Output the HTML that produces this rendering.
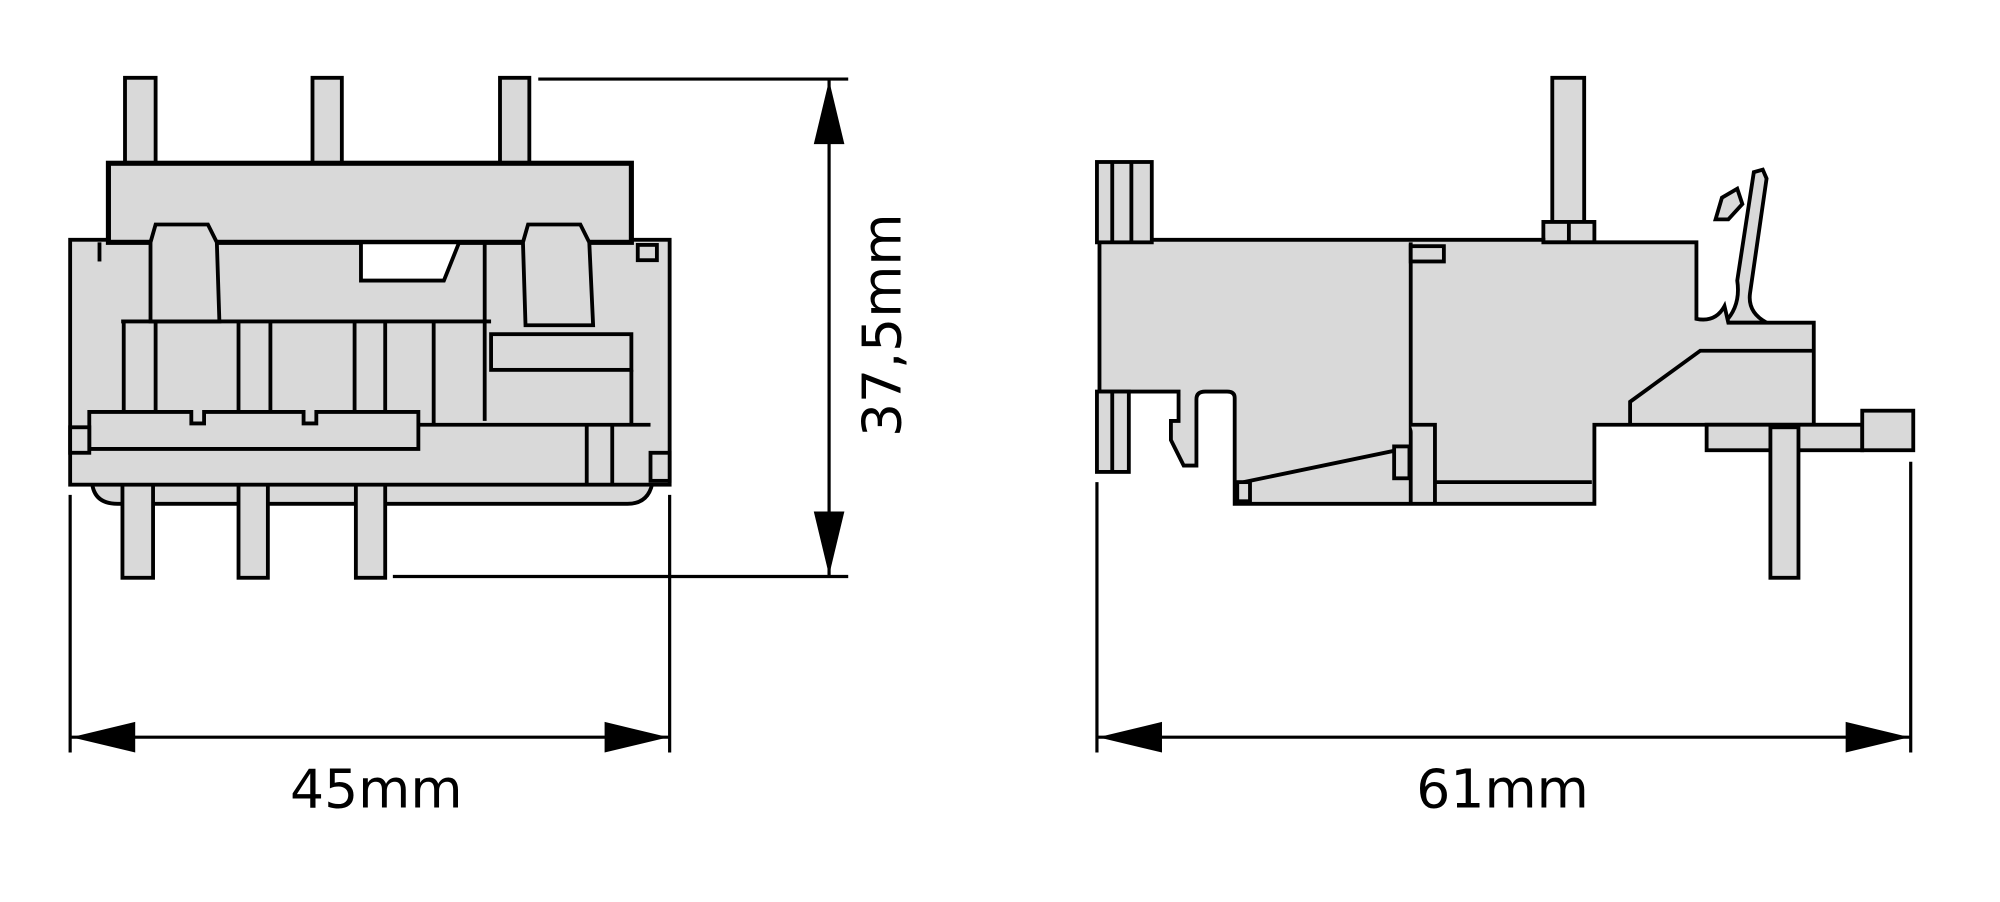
<!DOCTYPE html>
<html><head><meta charset="utf-8"><style>
html,body{margin:0;padding:0;background:#fff;width:2000px;height:902px;overflow:hidden}
svg{display:block}
text{font-family:"DejaVu Sans","Liberation Sans",sans-serif;fill:#000}
</style></head><body>
<svg width="2000" height="902" viewBox="0 0 1568 707.2" preserveAspectRatio="none" xmlns="http://www.w3.org/2000/svg">
<g fill="#d9d9d9" stroke="#000" stroke-width="3" stroke-linejoin="miter">
<!-- LEFT VIEW -->
<rect x="98" y="61" width="24" height="72"/>
<rect x="245" y="61" width="23" height="72"/>
<rect x="392" y="61" width="23" height="72"/>
<path d="M72,375 Q72,395 92,395 H492 Q510,395 512,375 Z"/>
<rect x="96" y="340" width="24" height="113"/>
<rect x="187" y="340" width="23" height="113"/>
<rect x="279" y="340" width="23" height="113"/>
<rect x="55" y="188" width="470" height="192"/>
<rect x="85" y="128" width="410" height="62" stroke-width="4"/>
<path d="M118,190 L122,176 H163 L170,190 L172,252 H118 Z"/>
<path d="M410,190 L414,176 H455 L462,190 L465,255 H412 Z"/>
<path d="M283,190 H360 L348,220 H283 Z" fill="#fff"/>
<line x1="95" y1="252" x2="385" y2="252"/>
<line x1="380" y1="190" x2="380" y2="330"/>
<rect x="385" y="262" width="110" height="28"/>
<line x1="97" y1="252" x2="97" y2="323"/><line x1="122" y1="252" x2="122" y2="323"/>
<line x1="187" y1="252" x2="187" y2="323"/><line x1="212" y1="252" x2="212" y2="323"/>
<line x1="278" y1="252" x2="278" y2="323"/><line x1="302" y1="252" x2="302" y2="323"/>
<line x1="340" y1="252" x2="340" y2="333"/>
<line x1="328" y1="333" x2="510" y2="333"/>
<line x1="495" y1="290" x2="495" y2="333"/>
<line x1="460" y1="333" x2="460" y2="380"/><line x1="480" y1="333" x2="480" y2="380"/>
<path d="M70,323 H150 V332 H160 V323 H238 V332 H248 V323 H328 V352 H70 Z"/>
<rect x="55" y="335" width="15" height="20"/>
<rect x="510" y="355" width="15" height="22"/>
<rect x="500" y="192" width="15" height="12"/>
<line x1="78" y1="190" x2="78" y2="205"/>
<!-- RIGHT VIEW -->
<rect x="1217" y="61" width="25" height="120"/>
<rect x="1210" y="174" width="40" height="16"/>
<line x1="1230" y1="174" x2="1230" y2="190"/>
<path d="M1352,253 Q1365,240 1362,220 L1375,135 L1382,133 L1385,140 L1372,230 Q1370,245 1385,253 Z"/>
<path d="M1345,172 L1350,155 L1362,148 L1366,160 L1355,172 Z"/>
<path d="M862,188 H1210 V190 H1330 V250 Q1345,253 1352,240 L1355,253 H1422 V333 H1250 V395 H968 V312 Q968,307 962,307 H945 Q938,307 938,313 V365 H928 L918,345 V330 H924 V307 H862 Z"/>
<rect x="1338" y="333" width="122" height="20"/>
<rect x="1460" y="322" width="40" height="31"/>
<rect x="1388" y="335" width="22" height="118"/>
<line x1="1106" y1="190" x2="1106" y2="395"/>
<rect x="1106" y="193" width="26" height="12"/>
<path d="M1106,333 H1125 V395 M1125,378 H1248"/>
<path d="M975,378 L1100,352" fill="none"/>
<rect x="970" y="378" width="10" height="15"/>
<rect x="1093" y="350" width="12" height="25"/>
<path d="M1278,333 V315 L1333,275 H1422" fill="none"/>
<rect x="860" y="127" width="43" height="63"/>
<line x1="872" y1="127" x2="872" y2="190"/><line x1="887" y1="127" x2="887" y2="190"/>
<rect x="860" y="307" width="25" height="63"/>
<line x1="872" y1="307" x2="872" y2="370"/>
</g>
<!-- DIMENSIONS -->
<g stroke="#000" stroke-width="2.5" fill="none">
<line x1="422" y1="62" x2="665" y2="62"/>
<line x1="308" y1="452" x2="665" y2="452"/>
<line x1="650" y1="62" x2="650" y2="452"/>
<line x1="55" y1="388" x2="55" y2="590"/>
<line x1="525" y1="388" x2="525" y2="590"/>
<line x1="55" y1="578" x2="525" y2="578"/>
<line x1="860" y1="378" x2="860" y2="590"/>
<line x1="1498" y1="362" x2="1498" y2="590"/>
<line x1="860" y1="578" x2="1498" y2="578"/>
</g>
<g fill="#000">
<polygon points="650,63 638,113 662,113"/>
<polygon points="650,451 638,401 662,401"/>
<polygon points="56,578 106,566 106,590"/>
<polygon points="524,578 474,566 474,590"/>
<polygon points="861,578 911,566 911,590"/>
<polygon points="1497,578 1447,566 1447,590"/>
</g>
<text x="295" y="633" font-size="42" text-anchor="middle">45mm</text>
<text x="1178" y="633" font-size="42" text-anchor="middle">61mm</text>
<text transform="translate(706,255) rotate(-90)" font-size="42" text-anchor="middle">37,5mm</text>
</svg>
</body></html>
